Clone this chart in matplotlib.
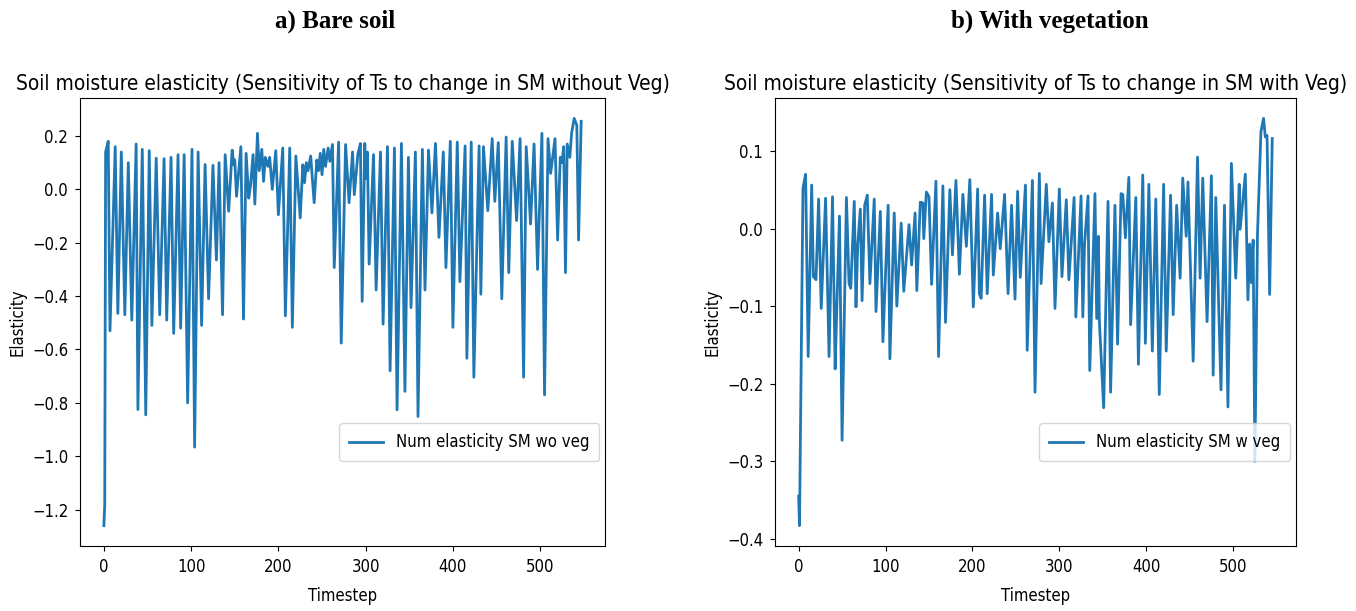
import matplotlib.pyplot as plt

# 1. Elasticity series (timestep, value) for bare soil
pasos_suelo = [0, 1, 2, 5, 7, 13, 16, 20, 24, 28, 32, 37, 39, 44, 48, 52, 55, 60, 64, 69,
               72, 77, 80, 85, 88, 92, 96, 101, 104, 108, 112, 116, 120, 125, 129, 132, 136, 139, 143, 147,
               149, 150, 152, 157, 160, 163, 166, 168, 171, 173, 176, 178, 181, 183, 185, 188, 190, 193, 197, 200,
               205, 208, 213, 216, 220, 225, 228, 230, 232, 234, 237, 241, 244, 246, 248, 250, 252, 254, 257, 259,
               262, 264, 269, 272, 277, 281, 285, 287, 291, 294, 296, 299, 300, 302, 304, 309, 312, 317, 320, 325,
               328, 333, 336, 341, 345, 349, 352, 357, 360, 365, 368, 372, 376, 380, 384, 389, 392, 397, 400, 405,
               408, 414, 416, 421, 424, 430, 432, 435, 440, 445, 448, 452, 456, 461, 464, 468, 473, 477, 481, 484,
               489, 493, 497, 502, 505, 509, 512, 517, 520, 523, 525, 527, 529, 531, 534, 536, 539, 542, 544, 547]
elast_suelo = [-1.26, -1.18, 0.14, 0.18, -0.53, 0.16, -0.465, 0.14, -0.47, 0.10, -0.49, 0.17, -0.825, 0.15, -0.845, 0.145, -0.51, 0.117, -0.47, 0.115,
               -0.49, 0.12, -0.54, 0.13, -0.52, 0.13, -0.80, 0.15, -0.966, 0.14, -0.51, 0.093, -0.41, 0.09, -0.265, 0.10, -0.47, 0.13, -0.082, 0.147,
               0.092, 0.11, -0.026, 0.16, -0.486, 0.135, -0.033, 0.013, 0.13, -0.055, 0.21, 0.07, 0.15, 0.03, 0.12, 0.086, 0.12, 0.0, 0.145, -0.095,
               0.155, -0.474, 0.155, -0.517, 0.125, -0.107, 0.092, 0.025, 0.10, 0.07, 0.125, -0.05, 0.11, 0.07, 0.135, 0.055, 0.15, 0.086, 0.155, 0.105,
               0.168, -0.293, 0.177, -0.576, 0.168, -0.05, 0.14, -0.02, 0.13, 0.172, -0.42, 0.172, 0.04, 0.14, -0.28, 0.13, -0.377, 0.14, -0.505, 0.16,
               -0.68, 0.155, -0.826, 0.172, -0.757, 0.12, -0.443, 0.14, -0.851, 0.15, -0.377, 0.147, -0.088, 0.172, -0.18, 0.14, -0.293, 0.18, -0.517, 0.177,
               -0.346, 0.163, -0.633, 0.177, -0.704, 0.163, -0.393, 0.16, -0.08, 0.19, -0.045, 0.175, -0.41, 0.196, -0.312, 0.18, -0.117, 0.19, -0.704, 0.16,
               -0.13, 0.17, -0.30, 0.21, -0.77, 0.19, 0.06, 0.19, -0.19, 0.12, 0.10, 0.16, -0.312, 0.17, 0.12, 0.21, 0.266, 0.24, -0.19, 0.255]

# 2. Elasticity series with vegetation
pasos_veg = [0, 1, 5, 8, 11, 15, 17, 20, 23, 26, 31, 35, 39, 42, 44, 47, 50, 55, 58, 60,
             64, 66, 68, 71, 73, 76, 79, 82, 87, 89, 94, 97, 103, 105, 110, 113, 118, 121, 127, 130,
             134, 136, 140, 143, 144, 147, 150, 153, 158, 161, 166, 169, 174, 177, 181, 185, 189, 193, 197, 201,
             206, 208, 210, 214, 217, 222, 224, 229, 232, 237, 241, 245, 249, 252, 255, 261, 263, 269, 272, 277,
             279, 285, 288, 292, 295, 300, 303, 308, 311, 317, 319, 325, 327, 329, 333, 335, 341, 343, 345, 346,
             351, 356, 359, 364, 367, 371, 373, 376, 380, 382, 388, 391, 396, 399, 403, 407, 411, 415, 420, 423,
             428, 431, 435, 439, 442, 446, 448, 454, 459, 462, 465, 470, 475, 477, 480, 486, 490, 494, 498, 503,
             507, 508, 514, 517, 519, 521, 523, 525, 528, 532, 535, 537, 539, 542, 545]
elast_veg = [-0.345, -0.383, 0.052, 0.070, -0.165, 0.056, -0.062, -0.066, 0.038, -0.103, 0.039, -0.165, 0.041, -0.181, -0.10, 0.016, -0.273, 0.04, -0.071, -0.077,
             0.035, -0.101, -0.021, 0.025, -0.093, 0.03, 0.043, -0.071, 0.038, -0.107, 0.022, -0.146, 0.03, -0.168, 0.02, -0.10, 0.007, -0.081, 0.005, -0.047,
             0.02, -0.08, 0.034, 0.033, -0.013, 0.047, 0.041, -0.072, 0.061, -0.165, 0.055, -0.121, 0.05, -0.034, 0.062, -0.059, 0.044, -0.023, 0.063, -0.101,
             0.051, -0.084, -0.09, 0.043, -0.084, 0.044, -0.06, 0.02, -0.026, 0.044, -0.084, 0.03, -0.091, 0.048, -0.063, 0.056, -0.157, 0.062, -0.211, 0.071,
             -0.071, 0.057, -0.017, 0.033, -0.103, 0.051, -0.062, 0.037, -0.066, 0.04, -0.114, 0.042, -0.114, -0.02, 0.042, -0.183, 0.045, -0.116, -0.01, -0.118,
             -0.231, 0.035, -0.211, 0.03, -0.149, 0.045, 0.044, -0.012, 0.066, -0.124, 0.04, -0.175, 0.069, -0.148, 0.057, -0.158, 0.038, -0.214, 0.057, -0.158,
             0.043, -0.111, 0.03, -0.064, 0.065, -0.01, 0.06, -0.171, 0.092, -0.064, 0.065, -0.12, 0.068, -0.189, 0.04, -0.208, 0.03, -0.23, 0.084, -0.064,
             0.057, -0.001, 0.07, -0.092, -0.02, -0.07, -0.015, -0.30, -0.008, 0.125, 0.142, 0.118, 0.12, -0.085, 0.116]

plt.rcParams['font.stretch'] = 'condensed'

# 3. Figure with two panels side by side
fig = plt.figure(figsize=(13.56, 6.11), dpi=100)
ax1 = fig.add_axes([0.059, 0.1064, 0.3872, 0.7332])
ax2 = fig.add_axes([0.5715, 0.1064, 0.3842, 0.7332])

paneles = [
    (ax1, pasos_suelo, elast_suelo, 'Num elasticity SM wo veg',
     'Soil moisture elasticity (Sensitivity of Ts to change in SM without Veg)'),
    (ax2, pasos_veg, elast_veg, 'Num elasticity SM w veg',
     'Soil moisture elasticity (Sensitivity of Ts to change in SM with Veg)'),
]
for ax, pasos, elast, etiqueta, titulo in paneles:
    ax.plot(pasos, elast, color='tab:blue', linewidth=2, label=etiqueta)
    ax.set_title(titulo, fontsize=15)
    ax.set_xlabel('Timestep', fontsize=12, labelpad=8)
    ax.set_ylabel('Elasticity', fontsize=12)
    ax.tick_params(labelsize=12, pad=5)
    ax.legend(loc='lower right', bbox_to_anchor=(1.005, 0.17), fontsize=12, borderpad=0.6)

# Panel headings
fig.text(0.247, 0.965, 'a) Bare soil', ha='center', va='center',
         family='Liberation Serif', weight='bold', fontsize=18)
fig.text(0.774, 0.965, 'b) With vegetation', ha='center', va='center',
         family='Liberation Serif', weight='bold', fontsize=18)

plt.savefig('out.png')
